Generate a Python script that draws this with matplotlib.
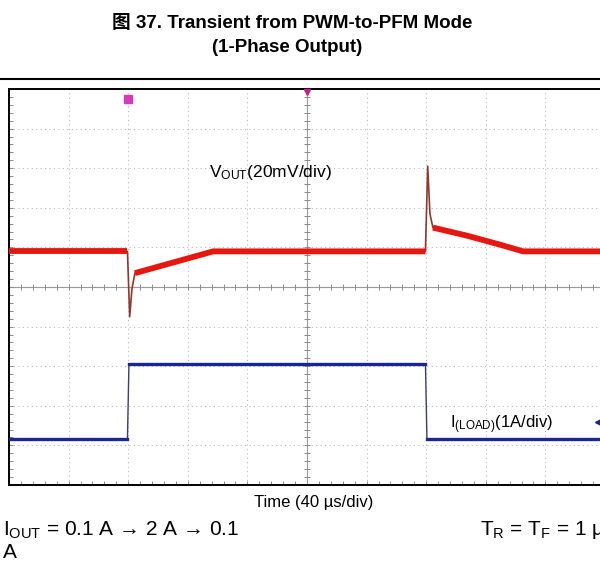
import numpy as np
import matplotlib
matplotlib.use("Agg")
import matplotlib.pyplot as plt
from matplotlib.ticker import MultipleLocator

plt.rcParams['font.family'] = ['Liberation Sans', 'Noto Sans CJK SC', 'DejaVu Sans']
plt.rcParams['mathtext.default'] = 'regular'

# Scope settings
time_per_div = 40.0      # µs/div
vout_per_div = 20.0      # mV/div
iload_per_div = 1.0      # A/div
vout_offset_div = 0.9    # channel 1 baseline position (div)
iload_offset_div = -3.94 # channel 2 zero-current position (div)

# VOUT deviation trace (µs, mV)
vout_t = [0, 79.5, 81, 82.5, 84.5, 137, 279.5, 281, 282.5, 284.5, 307, 329, 345, 400]
vout_mv = [0, 0, -33, -19, -11, 0, 0, 43, 19, 12, 8, 3.5, 0, 0]
# settled (noisy band) sections of the VOUT trace, as index ranges
vout_band_sections = [(0, 2), (4, 7), (9, 14)]

# load current trace (µs, A)
iload_t = [0, 79.5, 80.5, 279.5, 280.5, 400]
iload_a = [0.1, 0.1, 2.0, 2.0, 0.1, 0.1]

W, H = 600, 562
fig = plt.figure(figsize=(W / 100, H / 100), dpi=100)

def fx(px):
    return px / W

def fy(py):
    return 1 - py / H

ax = fig.add_axes([fx(9), fy(485), fx(605) - fx(9), fy(89) - fy(485)])
ax.set_xlim(0, 10 * time_per_div)
ax.set_ylim(-5, 5)

# graticule
for xv in np.arange(0, 10 * time_per_div + 1, time_per_div):
    ax.axvline(xv, color='#b8b8b8', lw=0.8, ls=(0, (1, 3)), zorder=1)
for yv in np.arange(-4, 5, 1):
    ax.axhline(yv, color='#b8b8b8', lw=0.8, ls=(0, (1, 3)), zorder=1)
ax.axvline(5 * time_per_div, color='#9a9a9a', lw=0.8, zorder=1)
ax.axhline(0, color='#9a9a9a', lw=0.8, zorder=1)
mx = np.arange(0, 10 * time_per_div + 0.1, time_per_div / 5)
ax.plot(mx, np.zeros_like(mx), ls='none', marker='|', ms=4, mew=0.7, color='#8a8a8a', zorder=1)
my = np.arange(-5, 5.01, 0.2)
ax.plot(np.full_like(my, 5 * time_per_div), my, ls='none', marker='_', ms=4, mew=0.7,
        color='#8a8a8a', zorder=1)

ax.xaxis.set_major_locator(MultipleLocator(time_per_div))
ax.xaxis.set_minor_locator(MultipleLocator(time_per_div / 5))
ax.yaxis.set_major_locator(MultipleLocator(1))
ax.yaxis.set_minor_locator(MultipleLocator(0.2))
ax.tick_params(which='both', direction='in', length=3, width=0.7, color='#8a8a8a',
               labelleft=False, labelbottom=False, top=False, right=False)
for side in ['left', 'top', 'bottom']:
    ax.spines[side].set_linewidth(1.4)
    ax.spines[side].set_color('black')
ax.spines['right'].set_visible(False)

# traces
vt = np.array(vout_t)
vy = vout_offset_div + np.array(vout_mv) / vout_per_div
ax.plot(vt, vy, color='#8a3a30', lw=1.2, zorder=3)
for a, b in vout_band_sections:
    ax.plot(vt[a:b], vy[a:b], color='#e5170f', lw=4.2, solid_capstyle='butt', zorder=4)

it = np.array(iload_t)
iy = iload_offset_div + np.array(iload_a) / iload_per_div
ax.plot(it, iy, color='#3a3f6e', lw=1.0, zorder=3)
ax.plot(it[[0, 1]], iy[[0, 1]], color='#1c2690', lw=2.4, zorder=4)
ax.plot(it[[2, 3]], iy[[2, 3]], color='#1c2690', lw=2.4, zorder=4)
ax.plot(it[[4, 5]], iy[[4, 5]], color='#1c2690', lw=2.4, zorder=4)

# scope markers
ax.plot([80], [4.75], marker='s', ms=5.5, color='#d63ab8', zorder=5, clip_on=False)
ax.plot([200], [4.93], marker='v', ms=4, color='#c0208a', zorder=5, clip_on=False)
ax.plot([395.5], [-3.4], marker='<', ms=4, color='#1c2690', zorder=5, clip_on=False)

# channel labels
fig.text(fx(209), fy(172), r'V$_{OUT}$(20mV/div)', fontsize=12.5, va='center', ha='left')
fig.text(fx(450), fy(425), r'I$_{(LOAD)}$(1A/div)', fontsize=12, va='center', ha='left')

# title and separator
fig.text(fx(292), fy(24), '图 37. Transient from PWM-to-PFM Mode', fontsize=13.5,
         fontweight='bold', ha='center', va='center')
fig.text(fx(287), fy(48), '(1-Phase Output)', fontsize=13.5, fontweight='bold',
         ha='center', va='center')
fig.add_artist(plt.Line2D([0, 1], [fy(79), fy(79)], color='black', lw=1.5,
                          transform=fig.transFigure))

# bottom text
fig.text(fx(314), fy(502), 'Time (40 µs/div)', fontsize=12, ha='center', va='center')
fig.text(fx(3), fy(530), r'I$_{OUT}$ = 0.1 A → 2 A → 0.1', fontsize=15, ha='left', va='center')
fig.text(fx(3), fy(553), 'A', fontsize=15, ha='left', va='center')
fig.text(fx(480), fy(530), r'T$_{R}$ = T$_{F}$ = 1 µs', fontsize=15, ha='left', va='center')

fig.savefig('out.png', dpi=100)
